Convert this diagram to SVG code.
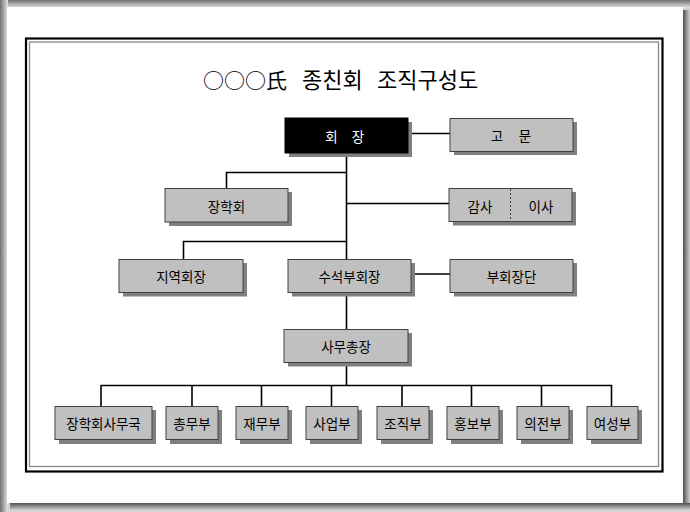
<svg xmlns="http://www.w3.org/2000/svg" width="690" height="512" viewBox="0 0 690 512">
<defs>
<style>
.box{fill:#c0c0c0;stroke:#404040;stroke-width:1}
.sh{fill:#808080}
.t{font-family:"Noto Sans CJK KR","Liberation Sans",sans-serif;font-size:13.5px;fill:#000;text-anchor:middle;dominant-baseline:central}
.ln{stroke:#000;stroke-width:1.6;fill:none}
</style>
<linearGradient id="gt" x1="0" y1="0" x2="0" y2="1"><stop offset="0" stop-color="#707070"/><stop offset="1" stop-color="#e6e6e6"/></linearGradient>
<linearGradient id="gl" x1="0" y1="0" x2="1" y2="0"><stop offset="0" stop-color="#707070"/><stop offset="1" stop-color="#e6e6e6"/></linearGradient>
<linearGradient id="gr" x1="0" y1="0" x2="1" y2="0"><stop offset="0" stop-color="#505050"/><stop offset="1" stop-color="#d0d0d0"/></linearGradient>
<linearGradient id="gb" x1="0" y1="0" x2="0" y2="1"><stop offset="0" stop-color="#505050"/><stop offset="1" stop-color="#d0d0d0"/></linearGradient>
</defs>
<g id="background">
<rect x="0" y="0" width="690" height="512" fill="#d4d4d4"/>
<rect x="0" y="0" width="690" height="8" fill="url(#gt)"/>
<rect x="0" y="0" width="8" height="512" fill="url(#gl)"/>
<rect x="683" y="10" width="7" height="500" fill="url(#gr)"/>
<rect x="10" y="503" width="680" height="7" fill="url(#gb)"/>
<rect x="7" y="7" width="676" height="496" fill="#fff"/>
<rect x="26" y="38.5" width="636.5" height="433" fill="none" stroke="#000" stroke-width="2.2"/>
<rect x="29.5" y="42" width="629" height="424.5" fill="none" stroke="#888" stroke-width="1.3"/>
</g>
<g id="title" font-family="'Noto Sans CJK KR','Liberation Sans',sans-serif" fill="#000">
<text x="203" y="88" font-size="21">○○○氏</text>
<text x="302" y="88" font-size="22">종친회</text>
<text x="377" y="88" font-size="22">조직구성도</text>
</g>
<g id="connectors">
<path class="ln" d="M346.5 153 V386"/>
<path class="ln" d="M408 133.5 H450"/>
<path class="ln" d="M346.5 172.5 H226.5 V188"/>
<path class="ln" d="M346.5 203.5 H449"/>
<path class="ln" d="M346.5 241.5 H183.5 V259"/>
<path class="ln" d="M411 274 H450"/>
<path class="ln" d="M101 385.5 H612 M101 385 V406 M192 385 V406 M261.5 385 V406 M331.5 385 V406 M402 385 V406 M471.5 385 V406 M541.5 385 V406 M611.5 385 V406"/>
</g>
<g id="n-hoejang">
<rect class="sh" x="289" y="122" width="123" height="35"/>
<rect x="285" y="118" width="123" height="35" fill="#000" stroke="#000"/>
<text class="t" y="135.5" style="fill:#fff"><tspan x="331.5">회</tspan><tspan x="358">장</tspan></text>
</g>
<g id="n-gomun">
<rect class="sh" x="454" y="122" width="123" height="33"/>
<rect class="box" x="450" y="118.5" width="123" height="33"/>
<text class="t" y="135"><tspan x="497">고</tspan><tspan x="525">문</tspan></text>
</g>
<g id="n-janghakhoe">
<rect class="sh" x="169" y="192" width="123" height="34"/>
<rect class="box" x="165" y="188.5" width="123" height="33.5"/>
<text class="t" x="226.5" y="205.5">장학회</text>
</g>
<g id="n-gamsa-isa">
<rect class="sh" x="453" y="192" width="123" height="33.5"/>
<rect class="box" x="449" y="188.5" width="123" height="33"/>
<line x1="510.5" y1="189" x2="510.5" y2="221" stroke="#404040" stroke-width="1" stroke-dasharray="2,2"/>
<text class="t" x="480" y="205.5">감사</text>
<text class="t" x="541" y="205.5">이사</text>
</g>
<g id="n-jiyeok">
<rect class="sh" x="123" y="263" width="124" height="33.5"/>
<rect class="box" x="119" y="259.5" width="124" height="33"/>
<text class="t" x="181" y="276">지역회장</text>
</g>
<g id="n-suseok">
<rect class="sh" x="292" y="263" width="123" height="33.5"/>
<rect class="box" x="288" y="259.5" width="123" height="33"/>
<text class="t" x="349.5" y="276">수석부회장</text>
</g>
<g id="n-buhoejangdan">
<rect class="sh" x="454" y="263" width="123" height="33.5"/>
<rect class="box" x="450" y="259.5" width="123" height="33"/>
<text class="t" x="511.5" y="276">부회장단</text>
</g>
<g id="n-samuchongjang">
<rect class="sh" x="288" y="333" width="124" height="33.5"/>
<rect class="box" x="284" y="329.5" width="124" height="33"/>
<text class="t" x="346" y="346">사무총장</text>
</g>
<g id="n-samuguk">
<rect class="sh" x="59" y="410" width="97" height="34"/>
<rect class="box" x="55" y="406.5" width="97" height="33"/>
<text class="t" x="103.5" y="423">장학회사무국</text>
</g>
<g id="n-chongmu">
<rect class="sh" x="170" y="410" width="52" height="34"/>
<rect class="box" x="166" y="406.5" width="52" height="33"/>
<text class="t" x="192" y="423">총무부</text>
</g>
<g id="n-jaemu">
<rect class="sh" x="240" y="410" width="52" height="34"/>
<rect class="box" x="236" y="406.5" width="52" height="33"/>
<text class="t" x="262" y="423">재무부</text>
</g>
<g id="n-saeop">
<rect class="sh" x="310" y="410" width="52" height="34"/>
<rect class="box" x="306" y="406.5" width="52" height="33"/>
<text class="t" x="332" y="423">사업부</text>
</g>
<g id="n-jojik">
<rect class="sh" x="381" y="410" width="52" height="34"/>
<rect class="box" x="377" y="406.5" width="52" height="33"/>
<text class="t" x="403" y="423">조직부</text>
</g>
<g id="n-hongbo">
<rect class="sh" x="451" y="410" width="52" height="34"/>
<rect class="box" x="447" y="406.5" width="52" height="33"/>
<text class="t" x="473" y="423">홍보부</text>
</g>
<g id="n-uijeon">
<rect class="sh" x="521" y="410" width="52" height="34"/>
<rect class="box" x="517" y="406.5" width="52" height="33"/>
<text class="t" x="543" y="423">의전부</text>
</g>
<g id="n-yeoseong">
<rect class="sh" x="591" y="410" width="51" height="34"/>
<rect class="box" x="587" y="406.5" width="51" height="33"/>
<text class="t" x="612.5" y="423">여성부</text>
</g>
</svg>
